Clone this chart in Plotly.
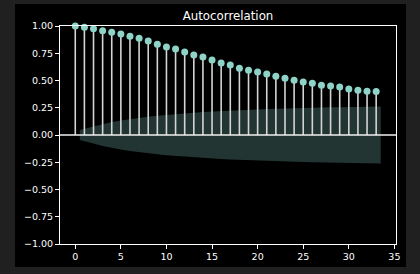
import plotly.graph_objects as go

# ---- data ----
lags = list(range(34))
acf_values = [1.000, 0.988, 0.975, 0.957, 0.942, 0.927, 0.905, 0.887, 0.862, 0.832,
              0.807, 0.789, 0.761, 0.734, 0.716, 0.688, 0.661, 0.642, 0.613, 0.593,
              0.578, 0.560, 0.538, 0.520, 0.502, 0.486, 0.474, 0.456, 0.450, 0.440,
              0.422, 0.410, 0.401, 0.400]
band_x = [0.5] + list(range(2, 33)) + [33.5]
band_half = [0.046, 0.079, 0.101, 0.119, 0.134, 0.147, 0.158, 0.168, 0.177, 0.185,
             0.193, 0.200, 0.206, 0.211, 0.216, 0.221, 0.225, 0.229, 0.232, 0.235,
             0.238, 0.241, 0.244, 0.246, 0.248, 0.250, 0.252, 0.254, 0.255, 0.257,
             0.258, 0.260, 0.261]
y_ticks = [-1.0, -0.75, -0.5, -0.25, 0.0, 0.25, 0.5, 0.75, 1.0]
x_ticks = [0, 5, 10, 15, 20, 25, 30, 35]
title_text = "Autocorrelation"

TEAL = "#8dd3c7"
FONT = "DejaVu Sans"

fig = go.Figure()

# confidence band
fig.add_trace(go.Scatter(
    x=band_x + band_x[::-1],
    y=band_half + [-v for v in band_half[::-1]],
    fill="toself", fillcolor="rgba(141,211,199,0.25)",
    line=dict(width=0), mode="lines", hoverinfo="skip", showlegend=False))

# stems
sx, sy = [], []
for k, v in zip(lags, acf_values):
    sx += [k, k, None]
    sy += [0, v, None]
fig.add_trace(go.Scatter(x=sx, y=sy, mode="lines",
                         line=dict(color="#d4d4d4", width=1.6),
                         hoverinfo="skip", showlegend=False))

# zero line
fig.add_hline(y=0, line=dict(color="#f0f0f0", width=1.6))

# markers
fig.add_trace(go.Scatter(x=lags, y=acf_values, mode="markers",
                         marker=dict(color=TEAL, size=7, line=dict(width=0)),
                         showlegend=False, cliponaxis=False))

L, R, T, B = 60, 24, 26, 30
W, H = 420, 274
pw, ph = W - L - R, H - T - B
# black figure panel inside grey border
fig.add_shape(type="rect", xref="paper", yref="paper",
              x0=(15 - L) / pw, x1=(406 - L) / pw,
              y0=(H - B - 267) / ph, y1=(H - B - 4) / ph,
              fillcolor="black", line=dict(width=0), layer="below")

axis_common = dict(showgrid=False, zeroline=False, showline=True, linecolor="white",
                   linewidth=1, mirror=True, ticks="outside", ticklen=4, tickwidth=1,
                   tickcolor="white", tickfont=dict(family=FONT, size=9.5, color="white"))

fig.update_xaxes(range=[-1.675, 35.175], tickvals=x_ticks,
                 ticktext=[str(t) for t in x_ticks], **axis_common)
fig.update_yaxes(range=[-1.0, 1.0], tickvals=y_ticks,
                 ticktext=[f"{t:.2f}".replace("-", "\u2212") for t in y_ticks],
                 **axis_common)

fig.update_layout(
    width=W, height=H,
    margin=dict(l=L, r=R, t=T, b=B, pad=0),
    paper_bgcolor="#202020", plot_bgcolor="black",
    title=dict(text=title_text, x=0.5, xref="paper", xanchor="center",
               y=1 - 16 / H, yref="container", yanchor="middle",
               font=dict(family=FONT, size=11.8, color="white")),
    font=dict(family=FONT, color="white"),
)

fig.write_html("out.html", config={"displayModeBar": False})
